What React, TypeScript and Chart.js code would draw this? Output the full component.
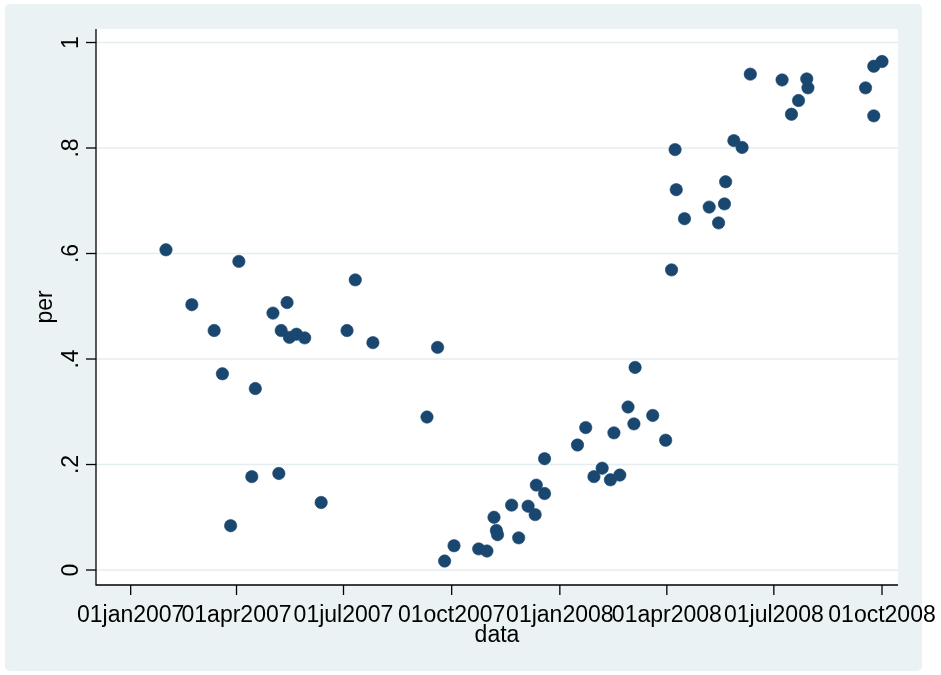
import { useEffect, useRef } from "react";
import { Chart, registerables } from "chart.js";

Chart.register(...registerables);

// ---- data ----
const dates: string[] = [
  "2007-01-31", "2007-02-22", "2007-03-13", "2007-03-20", "2007-03-27", "2007-04-03",
  "2007-04-14", "2007-04-17", "2007-05-02", "2007-05-07", "2007-05-09", "2007-05-14",
  "2007-05-16", "2007-05-22", "2007-05-29", "2007-06-12", "2007-07-04",
  "2007-07-11", "2007-07-26", "2007-09-10", "2007-09-19", "2007-09-25",
  "2007-10-03", "2007-10-24", "2007-10-31", "2007-11-06", "2007-11-08", "2007-11-09",
  "2007-11-21", "2007-11-27", "2007-12-05", "2007-12-11", "2007-12-12",
  "2007-12-19", "2007-12-19", "2008-01-16", "2008-01-23",
  "2008-01-30", "2008-02-06", "2008-02-13", "2008-02-16", "2008-02-21", "2008-02-28",
  "2008-03-04", "2008-03-05", "2008-03-20", "2008-03-31", "2008-04-05",
  "2008-04-08", "2008-04-09", "2008-04-16", "2008-05-07", "2008-05-15", "2008-05-20",
  "2008-05-21", "2008-05-28", "2008-06-04", "2008-06-11", "2008-07-08", "2008-07-16",
  "2008-07-22", "2008-07-29", "2008-07-30", "2008-09-17", "2008-09-24", "2008-09-24",
  "2008-10-01",
];
const per: number[] = [
  0.607, 0.503, 0.454, 0.372, 0.084, 0.585,
  0.177, 0.344, 0.487, 0.183, 0.454, 0.507,
  0.441, 0.447, 0.440, 0.128, 0.454,
  0.550, 0.431, 0.290, 0.422, 0.017,
  0.046, 0.040, 0.036, 0.100, 0.075, 0.067,
  0.123, 0.061, 0.121, 0.105, 0.161,
  0.211, 0.145, 0.237, 0.270,
  0.177, 0.193, 0.171, 0.260, 0.180, 0.309,
  0.277, 0.384, 0.293, 0.246, 0.569,
  0.797, 0.721, 0.666, 0.688, 0.658, 0.694,
  0.736, 0.814, 0.801, 0.940, 0.929, 0.864,
  0.890, 0.931, 0.914, 0.914, 0.955, 0.861,
  0.964,
];

const xTickDates: string[] = [
  "2007-01-01", "2007-04-01", "2007-07-01", "2007-10-01",
  "2008-01-01", "2008-04-01", "2008-07-01", "2008-10-01",
];
const xTickLabels: string[] = [
  "01jan2007", "01apr2007", "01jul2007", "01oct2007",
  "01jan2008", "01apr2008", "01jul2008", "01oct2008",
];
const yTicks: number[] = [0, 0.2, 0.4, 0.6, 0.8, 1];
const yTickLabels: string[] = ["0", ".2", ".4", ".6", ".8", "1"];
const xTitle = "data";
const yTitle = "per";

// ---- helpers ----
const DAY = 86400000;
const ORIGIN = Date.UTC(2007, 0, 1);
const toDay = (s: string) => {
  const [y, m, d] = s.split("-").map(Number);
  return (Date.UTC(y, m - 1, d) - ORIGIN) / DAY;
};

const FONT = '23px "Liberation Sans", Arial, Helvetica, sans-serif';
const MARKER = "#1a476f";
const BG = "#eaf2f3";

const stataPlugin = {
  id: "stataLook",
  beforeDraw(chart: any) {
    const { ctx, chartArea } = chart;
    const { left, right, top, bottom } = chartArea;
    const yScale = chart.scales.y;
    ctx.save();
    ctx.fillStyle = "#ffffff";
    ctx.fillRect(0, 0, chart.width, chart.height);
    ctx.fillStyle = BG;
    ctx.beginPath();
    (ctx as any).roundRect(5, 4, 917, 667, 5);
    ctx.fill();
    ctx.fillStyle = "#ffffff";
    ctx.fillRect(left, top, right - left, bottom - top);
    // grid lines
    ctx.strokeStyle = "#e4eef0";
    ctx.lineWidth = 1.4;
    yTicks.forEach((v) => {
      const y = yScale.getPixelForValue(v);
      ctx.beginPath();
      ctx.moveTo(left, y);
      ctx.lineTo(right, y);
      ctx.stroke();
    });
    ctx.restore();
  },
  afterDatasetsDraw(chart: any) {
    const { ctx, chartArea } = chart;
    const { left, right, top, bottom } = chartArea;
    const xScale = chart.scales.x;
    const yScale = chart.scales.y;
    ctx.save();
    ctx.strokeStyle = "#000000";
    ctx.lineWidth = 1.3;
    // axis lines
    ctx.beginPath();
    ctx.moveTo(left, top);
    ctx.lineTo(left, bottom);
    ctx.lineTo(right, bottom);
    ctx.stroke();
    ctx.fillStyle = "#000000";
    ctx.font = FONT;
    // y ticks + labels
    yTicks.forEach((v, i) => {
      const y = yScale.getPixelForValue(v);
      ctx.beginPath();
      ctx.moveTo(left - 10, y);
      ctx.lineTo(left, y);
      ctx.stroke();
      ctx.save();
      ctx.translate(left - 18.5, y);
      ctx.rotate(-Math.PI / 2);
      ctx.textAlign = "center";
      ctx.textBaseline = "alphabetic";
      ctx.fillText(yTickLabels[i], 0, 0);
      ctx.restore();
    });
    // x ticks + labels
    xTickDates.forEach((d, i) => {
      const x = xScale.getPixelForValue(toDay(d));
      ctx.beginPath();
      ctx.moveTo(x, bottom);
      ctx.lineTo(x, bottom + 10);
      ctx.stroke();
      ctx.textAlign = "center";
      ctx.textBaseline = "alphabetic";
      ctx.fillText(xTickLabels[i], x, bottom + 37);
    });
    // titles
    ctx.textAlign = "center";
    ctx.fillText(xTitle, (left + right) / 2, bottom + 57);
    ctx.save();
    ctx.translate(52, (top + bottom) / 2);
    ctx.rotate(-Math.PI / 2);
    ctx.fillText(yTitle, 0, 0);
    ctx.restore();
    ctx.restore();
  },
};

export default function App() {
  const ref = useRef<HTMLCanvasElement>(null);
  useEffect(() => {
    const points = dates.map((d, i) => ({ x: toDay(d), y: per[i] }));
    const chart = new Chart(ref.current as HTMLCanvasElement, {
      type: "scatter",
      data: {
        datasets: [
          {
            data: points,
            backgroundColor: MARKER,
            borderColor: MARKER,
            borderWidth: 0.6,
            pointRadius: 6.2,
            pointHoverRadius: 6.2,
            clip: false as any,
          },
        ],
      },
      options: {
        responsive: false,
        animation: false,
        devicePixelRatio: 1,
        events: [],
        layout: { padding: { left: 96, top: 29, right: 43, bottom: 90 } },
        plugins: { legend: { display: false }, tooltip: { enabled: false } },
        scales: {
          x: { type: "linear", display: false, min: -29.5, max: 652.6 },
          y: { type: "linear", display: false, min: -0.0284, max: 1.0256 },
        },
      },
      plugins: [stataPlugin],
    });
    return () => chart.destroy();
  }, []);
  return (
    <div style={{ position: "fixed", left: 0, top: 0, width: 941, height: 675 }}>
      <canvas ref={ref} width={941} height={675} style={{ display: "block", width: 941, height: 675 }} />
    </div>
  );
}
